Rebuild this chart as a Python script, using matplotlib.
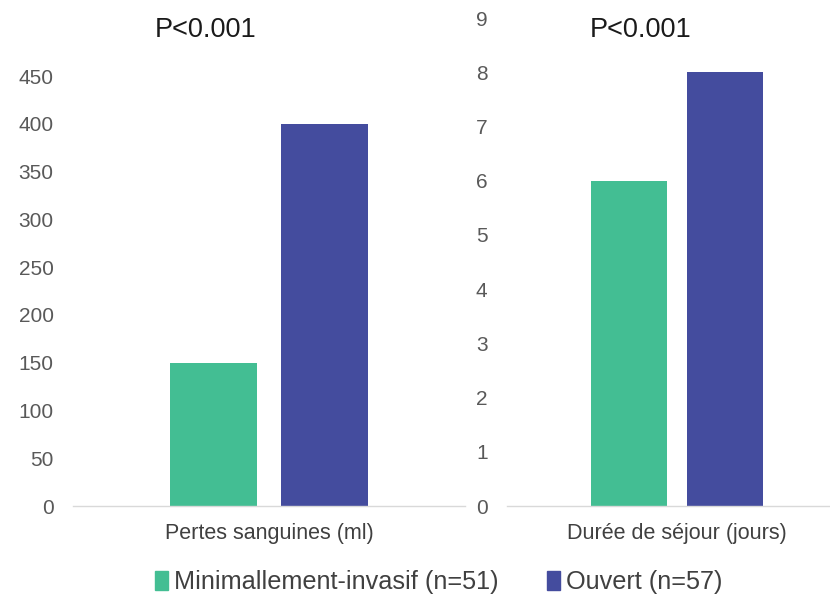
import matplotlib.pyplot as plt
from matplotlib.patches import Patch

plt.rcParams['font.family'] = ['Liberation Sans', 'DejaVu Sans']

# data
groups = ["Minimallement-invasif (n=51)", "Ouvert (n=57)"]
colors = ["#43BE93", "#444C9E"]
blood_loss = [150, 400]      # Pertes sanguines (ml)
stay_days = [6, 8]           # Durée de séjour (jours)
categories = ["Pertes sanguines (ml)", "Durée de séjour (jours)"]
pvalues = ["P<0.001", "P<0.001"]

fig = plt.figure(figsize=(8.30, 6.04), dpi=100)
ax1 = fig.add_axes([73/830, 1-506/604, 392/830, 430/604])
ax2 = fig.add_axes([507/830, 1-506/604, 323/830, 488/604])

width = 0.222
offsets = [-0.1416, 0.1416]

def draw(ax, values, ymax, step, label, xlim):
    for off, v, c, g in zip(offsets, values, colors, groups):
        ax.bar(off, v, width, color=c, label=g)
    ax.set_ylim(0, ymax)
    ax.set_yticks(range(0, ymax + 1, step))
    ax.set_xlim(*xlim)
    ax.set_xticks([0])
    ax.set_xticklabels([label])
    for s in ["top", "right", "left"]:
        ax.spines[s].set_visible(False)
    ax.spines["bottom"].set_color("#d9d9d9")
    ax.spines["bottom"].set_linewidth(1.0)
    ax.tick_params(axis="y", length=0, pad=14, labelsize=15, labelcolor="#595959")
    ax.tick_params(axis="x", length=0, pad=12, labelsize=15.5, labelcolor="#404040")

draw(ax1, blood_loss, 450, 50, categories[0], (-0.5, 0.5))
draw(ax2, stay_days, 9, 1, categories[1], (-0.5, -0.5 + 323/340))

fig.text(206/830, 1-30/604, pvalues[0], ha="center", va="center", fontsize=19.5, color="#1a1a1a")
fig.text(641/830, 1-30/604, pvalues[1], ha="center", va="center", fontsize=19.5, color="#1a1a1a")

handles = [Patch(color=c) for c in colors]
fig.legend(handles, groups, loc="center", bbox_to_anchor=(439/830, 1-582/604), ncol=2,
           frameon=False, fontsize=18.2, handlelength=0.5, handleheight=0.8,
           handletextpad=0.25, columnspacing=1.9, labelcolor="#404040")

fig.savefig("out.png", dpi=100)
